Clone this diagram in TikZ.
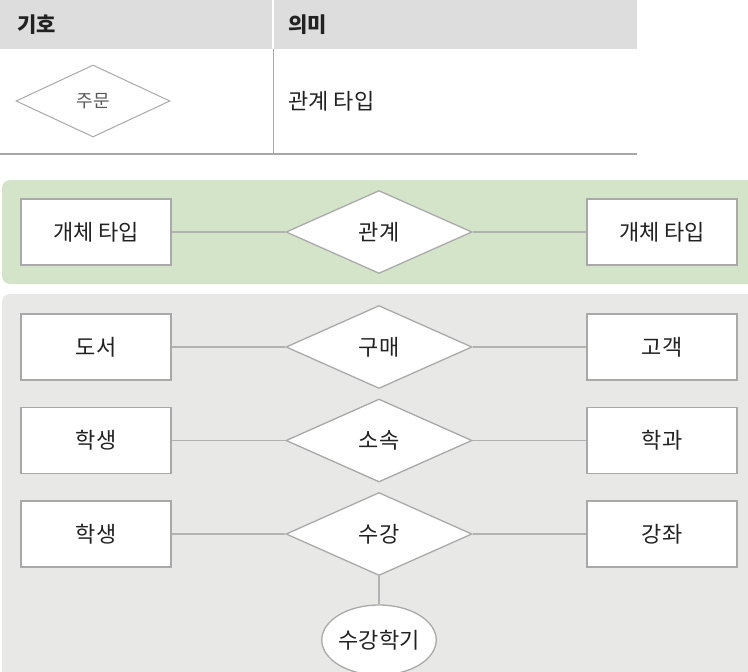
\documentclass[tikz,border=0pt]{standalone}
\usepackage{fontspec}
\setmainfont{Noto Sans CJK KR}
\usetikzlibrary{shapes.geometric}
\definecolor{hdrgray}{HTML}{DDDDDD}
\definecolor{panelgreen}{HTML}{D4E4C9}
\definecolor{panelgray}{HTML}{E8E8E7}
\definecolor{edgegray}{HTML}{A9A9A9}
\definecolor{linegray}{HTML}{B2B2B2}
\definecolor{txt}{HTML}{222222}
\tikzset{
  ent/.style={draw=edgegray, line width=1.3pt, fill=white, minimum width=150pt, minimum height=66pt, inner sep=0pt, font=\fontsize{22pt}{25pt}\selectfont, text=txt},
  rel/.style={diamond, draw=edgegray, line width=1.3pt, fill=white, minimum width=186pt, minimum height=83pt, inner sep=0pt, font=\fontsize{22pt}{25pt}\selectfont, text=txt},
  attrib/.style={ellipse, draw=edgegray, line width=1.3pt, fill=white, minimum width=105pt, minimum height=70pt, inner sep=0pt, font=\fontsize{22pt}{25pt}\selectfont, text=txt},
  conn/.style={draw=linegray, line width=1.3pt},
  panel/.style={rounded corners=8pt},
  hdrtext/.style={anchor=west, font=\fontsize{21pt}{24pt}\selectfont\bfseries, text=txt},
  celltext/.style={anchor=west, font=\fontsize{22pt}{25pt}\selectfont, text=txt}
}
\begin{document}
\begin{tikzpicture}[x=1pt, y=-1pt]
\useasboundingbox (0,0) rectangle (748,672);
% legend table
\fill[hdrgray] (0,0) rectangle (637,49);
\draw[white, line width=2pt] (273,0) -- (273,49);
\draw[edgegray, line width=1pt] (273,49) -- (273,154);
\draw[linegray!80!gray, line width=1.6pt] (0,154) -- (637,154);
\node[hdrtext] (h1) at (14,25) {기호};
\node[hdrtext] (h2) at (285,25) {의미};
\node[diamond, draw=edgegray, line width=1pt, fill=white, minimum width=154pt, minimum height=72pt, inner sep=0pt, font=\fontsize{18pt}{20pt}\selectfont, text=black!65] (sym) at (93,101) {주문};
\node[celltext] (mean) at (285,101) {관계 타입};
% green panel
\fill[panelgreen, panel] (2,180) rectangle (760,284);
\node[ent] (ga) at (96,232) {개체 타입};
\node[rel] (gr) at (379,232) {관계};
\node[ent] (gb) at (662,232) {개체 타입};
\draw[conn] (ga) -- (gr) -- (gb);
% gray panel
\fill[panelgray, panel] (2,294) rectangle (760,700);
\node[ent] (a1) at (96,347) {도서};
\node[rel] (r1) at (379,347) {구매};
\node[ent] (b1) at (662,347) {고객};
\draw[conn] (a1) -- (r1) -- (b1);
\node[ent] (a2) at (96,440.5) {학생};
\node[rel] (r2) at (379,440.5) {소속};
\node[ent] (b2) at (662,440.5) {학과};
\draw[conn] (a2) -- (r2) -- (b2);
\node[ent] (a3) at (96,534) {학생};
\node[rel] (r3) at (379,534) {수강};
\node[ent] (b3) at (662,534) {강좌};
\draw[conn] (a3) -- (r3) -- (b3);
\node[attrib] (at) at (379,640) {수강학기};
\draw[conn] (r3.south) -- (at.north);
\end{tikzpicture}
\end{document}
